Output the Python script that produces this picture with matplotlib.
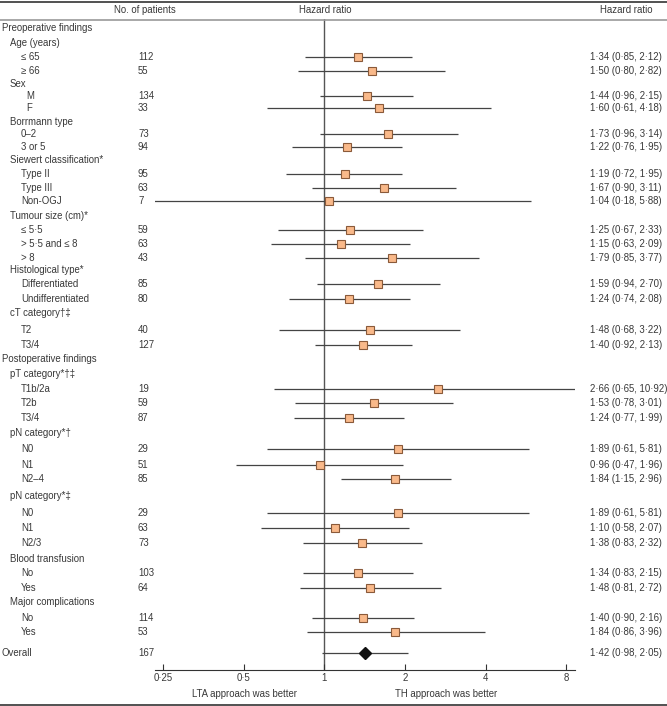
import numpy as np
import matplotlib.pyplot as plt
from matplotlib.transforms import blended_transform_factory

plt.rcParams['font.family'] = ['Liberation Sans', 'DejaVu Sans']

# rows: label, indent level, patients, hazard ratio, lower CI, upper CI
labels = ['Preoperative findings', 'Age (years)', '\u2264 65', '\u2265 66', 'Sex', 'M', 'F',
          'Borrmann type', '0\u20132', '3 or 5', 'Siewert classification*', 'Type II', 'Type III',
          'Non-OGJ', 'Tumour size (cm)*', '\u2264 5\u00b75', '> 5\u00b75 and \u2264 8', '> 8',
          'Histological type*', 'Differentiated', 'Undifferentiated', 'cT category\u2020\u2021',
          'T2', 'T3/4', 'Postoperative findings', 'pT category*\u2020\u2021', 'T1b/2a', 'T2b',
          'T3/4', 'pN category*\u2020', 'N0', 'N1', 'N2\u20134', 'pN category*\u2021', 'N0', 'N1',
          'N2/3', 'Blood transfusion', 'No', 'Yes', 'Major complications', 'No', 'Yes', 'Overall']
levels = [0, 1, 2, 2, 1, 2, 2, 1, 2, 2, 1, 2, 2, 2, 1, 2, 2, 2, 1, 2, 2, 1, 2, 2,
          0, 1, 2, 2, 2, 1, 2, 2, 2, 1, 2, 2, 2, 1, 2, 2, 1, 2, 2, 0]
patients = [None, None, 112, 55, None, 134, 33, None, 73, 94, None, 95, 63, 7, None, 59, 63, 43,
            None, 85, 80, None, 40, 127, None, None, 19, 59, 87, None, 29, 51, 85, None, 29, 63,
            73, None, 103, 64, None, 114, 53, 167]
hr = [None, None, 1.34, 1.50, None, 1.44, 1.60, None, 1.73, 1.22, None, 1.19, 1.67, 1.04, None,
      1.25, 1.15, 1.79, None, 1.59, 1.24, None, 1.48, 1.40, None, None, 2.66, 1.53, 1.24, None,
      1.89, 0.96, 1.84, None, 1.89, 1.10, 1.38, None, 1.34, 1.48, None, 1.40, 1.84, 1.42]
lo = [None, None, 0.85, 0.80, None, 0.96, 0.61, None, 0.96, 0.76, None, 0.72, 0.90, 0.18, None,
      0.67, 0.63, 0.85, None, 0.94, 0.74, None, 0.68, 0.92, None, None, 0.65, 0.78, 0.77, None,
      0.61, 0.47, 1.15, None, 0.61, 0.58, 0.83, None, 0.83, 0.81, None, 0.90, 0.86, 0.98]
hi = [None, None, 2.12, 2.82, None, 2.15, 4.18, None, 3.14, 1.95, None, 1.95, 3.11, 5.88, None,
      2.33, 2.09, 3.77, None, 2.70, 2.08, None, 3.22, 2.13, None, None, 10.92, 3.01, 1.99, None,
      5.81, 1.96, 2.96, None, 5.81, 2.07, 2.32, None, 2.15, 2.72, None, 2.16, 3.96, 2.05]
ticks = [0.25, 0.5, 1, 2, 4, 8]
tick_labels = ['0\u00b725', '0\u00b75', '1', '2', '4', '8']

# row centres in pixels from the top
row_y = [28, 43, 57, 71, 84, 96, 108, 122, 134, 147, 160, 174, 188, 201, 216, 230, 244, 258,
         270, 284, 299, 313, 330, 345, 359, 374, 389, 403, 418, 433, 449, 465, 479, 496, 513,
         528, 543, 559, 573, 588, 602, 618, 632, 653]

W, H = 667, 706
fs = 6.9
tc = '#383838'

fig = plt.figure(figsize=(W / 100, H / 100), dpi=100)
ax = fig.add_axes([155 / W, (H - 670) / H, (575 - 155) / W, (670 - 19) / H])

x0, k = 324.3, 80.7  # pixel of HR=1, pixels per doubling
ax.set_xscale('log', base=2)
ax.set_xlim(2 ** ((155 - x0) / k), 2 ** ((575 - x0) / k))
ax.set_ylim(670, 19)
ax.minorticks_off()
ax.set_xticks(ticks)
ax.set_xticklabels(tick_labels, fontsize=fs, color=tc)
ax.tick_params(axis='x', direction='in', length=4, width=0.8, color='#333333', pad=2.5)
ax.set_yticks([])
for s in ['top', 'left', 'right']:
    ax.spines[s].set_visible(False)
ax.spines['bottom'].set_color('#333333')
ax.spines['bottom'].set_linewidth(0.8)

ax.axvline(1, color='#555555', lw=1, zorder=1)

for i in range(len(labels)):
    if hr[i] is None:
        continue
    y = row_y[i]
    ax.hlines(y, lo[i], hi[i], color='#444444', lw=0.9, zorder=2)
    if labels[i] == 'Overall':
        ax.plot(hr[i], y, 'D', ms=6.3, mfc='#111111', mec='#111111', zorder=3)
    else:
        ax.plot(hr[i], y, 's', ms=5.8, mfc='#F9B98A', mec='#8A5A3A', mew=0.8, zorder=3)

tr = blended_transform_factory(fig.transFigure, ax.transData)
indent = [2, 10, 21]
for i, lab in enumerate(labels):
    y = row_y[i]
    xi = indent[levels[i]]
    if lab in ('M', 'F'):
        xi = 26
    ax.text(xi / W, y, lab, transform=tr, fontsize=fs, color=tc, va='center', ha='left', clip_on=False)
    if patients[i] is not None:
        ax.text(138 / W, y, str(patients[i]), transform=tr, fontsize=fs, color=tc,
                va='center', ha='left', clip_on=False)
    if hr[i] is not None:
        s = f'{hr[i]:.2f} ({lo[i]:.2f}, {hi[i]:.2f})'.replace('.', '\u00b7')
        ax.text(590 / W, y, s, transform=tr, fontsize=fs, color=tc, va='center', ha='left', clip_on=False)

# header
ax.text(145 / W, 10, 'No. of patients', transform=tr, fontsize=fs, color=tc, ha='center', va='center', clip_on=False)
ax.text(325 / W, 10, 'Hazard ratio', transform=tr, fontsize=fs, color=tc, ha='center', va='center', clip_on=False)
ax.text(626 / W, 10, 'Hazard ratio', transform=tr, fontsize=fs, color=tc, ha='center', va='center', clip_on=False)
ax.text(244 / W, 694, 'LTA approach was better', transform=tr, fontsize=fs, color=tc, ha='center', va='center', clip_on=False)
ax.text(446 / W, 694, 'TH approach was better', transform=tr, fontsize=fs, color=tc, ha='center', va='center', clip_on=False)

ax.plot([0, 1], [2, 2], transform=tr, color='#333333', lw=1.2, clip_on=False)
ax.plot([0, 1], [19.5, 19.5], transform=tr, color='#999999', lw=1.2, clip_on=False)
ax.plot([0, 1], [704.5, 704.5], transform=tr, color='#333333', lw=1.2, clip_on=False)

fig.savefig('out.png', dpi=100)
